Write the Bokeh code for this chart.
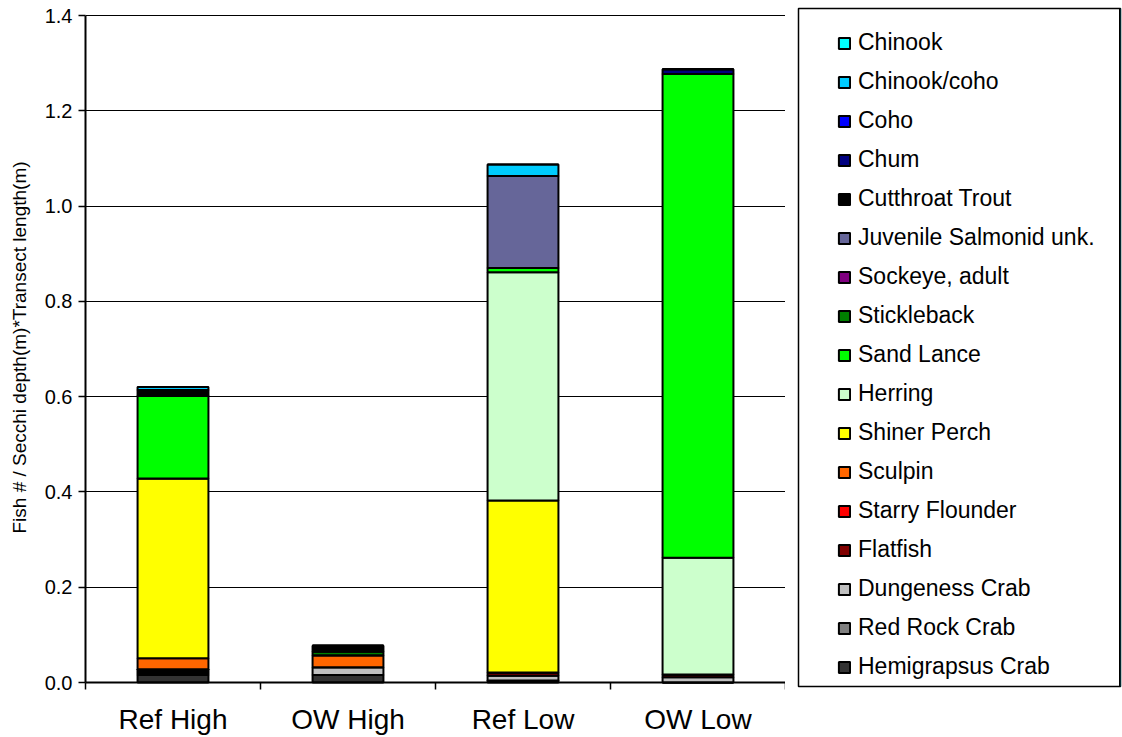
from bokeh.plotting import figure
from bokeh.layouts import row
from bokeh.models import (Range1d, FixedTicker, NumeralTickFormatter, Legend,
                          LegendItem, ColumnDataSource, Span)
from bokeh.embed import file_html
from bokeh.resources import INLINE

# Sites along the x axis
sites = ["Ref High", "OW High", "Ref Low", "OW Low"]

# Species, stacked from the bottom of each bar upwards
species = [
    "Hemigrapsus Crab", "Red Rock Crab", "Dungeness Crab", "Flatfish",
    "Starry Flounder", "Sculpin", "Shiner Perch", "Herring", "Sand Lance",
    "Stickleback", "Sockeye, adult", "Juvenile Salmonid unk.",
    "Cutthroat Trout", "Chum", "Coho", "Chinook/coho", "Chinook",
]

colors = [
    "#333333", "#808080", "#C0C0C0", "#800000",
    "#FF0000", "#FF6600", "#FFFF00", "#CCFFCC", "#00FF00",
    "#008000", "#800080", "#666699",
    "#000000", "#000080", "#0000FF", "#00CCFF", "#00FFFF",
]

# Density per site: Ref High, OW High, Ref Low, OW Low
hemigrapsus = [0.016, 0.016, 0.004, 0.0]
red_rock = [0.004, 0.0, 0.0, 0.0]
dungeness = [0.0, 0.016, 0.010, 0.011]
flatfish = [0.004, 0.0, 0.007, 0.006]
starry = [0.004, 0.0, 0.0, 0.0]
sculpin = [0.023, 0.025, 0.0, 0.0]
shiner = [0.377, 0.0, 0.361, 0.0]
herring = [0.0, 0.0, 0.479, 0.245]
sand_lance = [0.174, 0.0, 0.009, 1.015]
stickleback = [0.0, 0.008, 0.0, 0.0]
sockeye = [0.0, 0.0, 0.0, 0.0]
juvenile = [0.0, 0.0, 0.193, 0.0]
cutthroat = [0.012, 0.012, 0.0, 0.0]
chum = [0.0, 0.0, 0.0, 0.010]
coho = [0.0, 0.0, 0.0, 0.0]
chinook_coho = [0.006, 0.0, 0.024, 0.0]
chinook = [0.0, 0.0, 0.0, 0.0]

series = [hemigrapsus, red_rock, dungeness, flatfish, starry, sculpin, shiner,
          herring, sand_lance, stickleback, sockeye, juvenile, cutthroat,
          chum, coho, chinook_coho, chinook]

y_ticks = [0.0, 0.2, 0.4, 0.6, 0.8, 1.0, 1.2, 1.4]

FONT = "Liberation Sans"
TOP, BOTTOM = 8, 51            # shared frame borders of both panels
PX_PER_UNIT = (682 - 15) / 1.4  # vertical scale of the value axis

positions = [i + 0.5 for i in range(len(sites))]
data = {"x": positions}
for name, vals in zip(species, series):
    data[name] = vals
source = ColumnDataSource(data)

# value range padded a few pixels so that the frame lines up with the legend box
y_start = -4 / PX_PER_UNIT
y_end = y_ticks[-1] + 7 / PX_PER_UNIT

p = figure(width=785, height=737, output_backend="svg", toolbar_location=None,
           x_range=Range1d(0, len(sites)), y_range=Range1d(y_start, y_end),
           min_border_left=85, min_border_right=0, min_border_top=TOP,
           min_border_bottom=BOTTOM)
p.outline_line_color = None
p.background_fill_color = "white"
p.border_fill_color = "white"

p.vbar_stack(species, x="x", width=0.405, source=source, fill_color=colors,
             line_color="black", line_width=2)

# y axis
p.yaxis.ticker = FixedTicker(ticks=y_ticks)
p.yaxis.bounds = (y_ticks[0], y_ticks[-1])
p.yaxis.formatter = NumeralTickFormatter(format="0.0")
p.yaxis.axis_label = "Fish # / Secchi depth(m)*Transect length(m)"
p.yaxis.axis_label_text_font = FONT
p.yaxis.axis_label_text_font_style = "normal"
p.yaxis.axis_label_text_font_size = "19px"
p.yaxis.axis_label_text_color = "black"
p.yaxis.axis_label_standoff = 12
p.yaxis.major_label_text_font = FONT
p.yaxis.major_label_text_font_size = "20px"
p.yaxis.major_label_text_color = "black"
p.yaxis.major_label_standoff = 6
p.yaxis.axis_line_color = "black"
p.yaxis.axis_line_width = 2
p.yaxis.major_tick_line_color = "black"
p.yaxis.major_tick_line_width = 1.5
p.yaxis.major_tick_out = 7
p.yaxis.major_tick_in = 0
p.yaxis.minor_tick_line_color = None

# x axis: labels at bar centres, tick marks between categories
p.xaxis.ticker = FixedTicker(ticks=positions,
                             minor_ticks=list(range(len(sites) + 1)))
p.xaxis.major_label_overrides = {pos: s for pos, s in zip(positions, sites)}
p.xaxis.major_label_text_font = FONT
p.xaxis.major_label_text_font_size = "28px"
p.xaxis.major_label_text_color = "black"
p.xaxis.major_label_standoff = 14
p.xaxis.axis_line_color = None
p.xaxis.major_tick_line_color = None
p.xaxis.major_tick_out = 0
p.xaxis.major_tick_in = 0
p.xaxis.minor_tick_line_color = "black"
p.xaxis.minor_tick_line_width = 1.5
p.xaxis.minor_tick_out = 3
p.xaxis.minor_tick_in = 4

# baseline at zero
p.add_layout(Span(location=0, dimension="width", line_color="black",
                  line_width=2))

p.xgrid.grid_line_color = None
p.ygrid.grid_line_color = "black"
p.ygrid.grid_line_width = 1

# Legend panel to the right, framed by its own outline
lp = figure(width=337, height=737, output_backend="svg", toolbar_location=None,
            x_range=Range1d(0, 1), y_range=Range1d(0, 1),
            min_border_left=13, min_border_right=2, min_border_top=TOP,
            min_border_bottom=BOTTOM)
lp.axis.visible = False
lp.grid.grid_line_color = None
lp.outline_line_color = "black"
lp.outline_line_width = 1.5

items = []
for name, col in zip(species, colors):
    r = lp.vbar(x=[10], top=[10], width=0.1, fill_color=col,
                line_color="black", line_width=2)
    items.append(LegendItem(label=name, renderers=[r]))
items.reverse()

legend = Legend(items=items, location=(39, 6), padding=0, margin=0,
                border_line_color=None, background_fill_alpha=0,
                glyph_width=14, glyph_height=14, label_height=27,
                spacing=12, label_standoff=7,
                label_text_font=FONT, label_text_font_size="23px",
                label_text_color="black")
lp.add_layout(legend, "center")

layout = row(p, lp)

open("out.html", "w").write(file_html(layout, INLINE))
